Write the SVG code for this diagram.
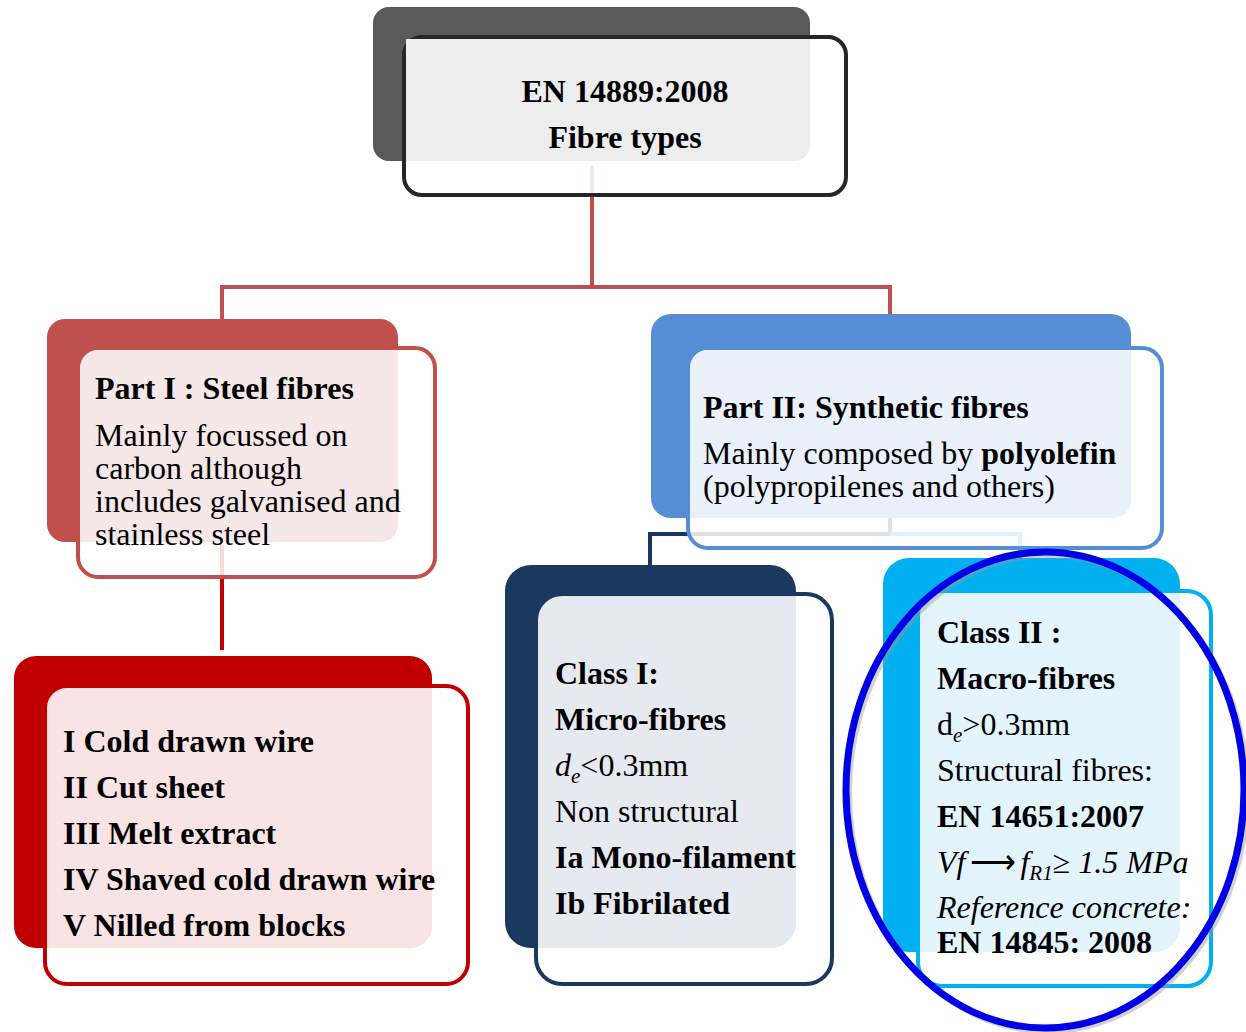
<svg xmlns="http://www.w3.org/2000/svg" width="1246" height="1032" viewBox="0 0 1246 1032">
  <style>
    text { font-family: "Liberation Serif", "Times New Roman", serif; font-size: 32px; fill: #000; }
    .b { font-weight: bold; }
    .i { font-style: italic; }
    .sub { font-size: 21px; font-style: italic; }
    .conn { fill: none; stroke-width: 4; stroke-linejoin: miter; }
    .frame { fill: #ffffff; fill-opacity: 0.86; stroke-width: 4; }
  </style>

  <rect width="1246" height="1032" fill="#ffffff"/>

  <!-- connectors (drawn beneath the boxes) -->
  <g id="connectors">
    <path class="conn" stroke="#c0504d" d="M592,165 V287 M222,287 H890 M222,285 V322 M890,285 V316"/>
    <path class="conn" stroke="#c00000" d="M222,545 V650"/>
    <path class="conn" stroke="#17375e" d="M890,518 V534 H650 V567"/>
    <path class="conn" stroke="#00b0f0" d="M890,534 H1020 V560"/>
  </g>

  <!-- root -->
  <g id="root">
    <rect x="373" y="7" width="437" height="154" rx="16" fill="#595959"/>
    <rect class="frame" x="404" y="37" width="442" height="158" rx="18" stroke="#262626"/>
    <path d="M406,39 H810 V145 A16,16 0 0 1 794,161 H406 Z" fill="#ededed"/>
    <text class="b" x="625" y="102" text-anchor="middle">EN 14889:2008</text>
    <text class="b" x="625" y="148" text-anchor="middle">Fibre types</text>
  </g>

  <!-- part I -->
  <g id="part1">
    <rect x="47" y="319" width="351" height="223" rx="18" fill="#c0504d"/>
    <rect class="frame" x="78" y="348" width="357" height="229" rx="20" stroke="#c0504d"/>
    <path d="M98,350 H398 V524 A18,18 0 0 1 380,542 H80 V370 A20,20 0 0 1 98,350 Z" fill="#f6e8e8"/>
    <text class="b" x="95" y="399">Part I : Steel fibres</text>
    <text x="95" y="446">Mainly focussed on</text>
    <text x="95" y="479">carbon although</text>
    <text x="95" y="512">includes galvanised and</text>
    <text x="95" y="545">stainless steel</text>
  </g>

  <!-- part II -->
  <g id="part2">
    <rect x="651" y="314" width="480" height="204" rx="20" fill="#558ed5"/>
    <rect class="frame" x="688" y="348" width="474" height="200" rx="20" stroke="#558ed5"/>
    <path d="M708,350 H1131 V500 A18,18 0 0 1 1113,518 H708 A18,18 0 0 1 690,500 V368 A18,18 0 0 1 708,350 Z" fill="#eaf1fa"/>
    <text class="b" x="703" y="418">Part II: Synthetic fibres</text>
    <text x="703" y="464">Mainly composed by <tspan class="b">polyolefin</tspan></text>
    <text x="703" y="497">(polypropilenes and others)</text>
  </g>

  <!-- steel fibre groups -->
  <g id="steel-groups">
    <rect x="14" y="656" width="418" height="292" rx="22" fill="#c00000"/>
    <rect class="frame" x="45" y="686" width="423" height="298" rx="22" stroke="#c00000"/>
    <path d="M68,689 H432 V926 A22,22 0 0 1 410,948 H48 V709 A20,20 0 0 1 68,689 Z" fill="#f8e4e4"/>
    <text class="b" x="63" y="752">I Cold drawn wire</text>
    <text class="b" x="63" y="798">II Cut sheet</text>
    <text class="b" x="63" y="844">III Melt extract</text>
    <text class="b" x="63" y="890">IV Shaved cold drawn wire</text>
    <text class="b" x="63" y="936">V Nilled from blocks</text>
  </g>

  <!-- class I -->
  <g id="class1">
    <rect x="505" y="565" width="291" height="383" rx="26" fill="#1a3860"/>
    <rect class="frame" x="536" y="594" width="296" height="390" rx="26" stroke="#1a3860"/>
    <path d="M562,597 H796 V922 A26,26 0 0 1 770,948 H539 V620 A23,23 0 0 1 562,597 Z" fill="#e6e9ef"/>
    <text class="b" x="555" y="684">Class I:</text>
    <text class="b" x="555" y="730">Micro-fibres</text>
    <text x="555" y="776"><tspan class="i">d</tspan><tspan class="sub" dy="7">e</tspan><tspan dy="-7">&lt;0.3mm</tspan></text>
    <text x="555" y="822">Non structural</text>
    <text class="b" x="555" y="868">Ia Mono-filament</text>
    <text class="b" x="555" y="914">Ib Fibrilated</text>
  </g>

  <!-- class II -->
  <g id="class2">
    <rect x="883" y="558" width="297" height="394" rx="26" fill="#00b0f0"/>
    <rect class="frame" x="918" y="591" width="293" height="395" rx="24" stroke="#00b0f0" stroke-width="3"/>
    <path d="M944,594 H1180 V926 A26,26 0 0 1 1154,952 H921 V617 A23,23 0 0 1 944,594 Z" fill="#e3f4fc"/>
    <text class="b" x="937" y="643">Class II :</text>
    <text class="b" x="937" y="689">Macro-fibres</text>
    <text x="937" y="735">d<tspan class="sub" dy="7">e</tspan><tspan dy="-7">&gt;0.3mm</tspan></text>
    <text x="937" y="781">Structural fibres:</text>
    <text class="b" x="937" y="827">EN 14651:2007</text>
    <text x="937" y="873"><tspan class="i">Vf</tspan><tspan dx="5">⟶</tspan><tspan class="i" dx="4">f</tspan><tspan class="sub" dy="7">R1</tspan><tspan dy="-7">≥ </tspan><tspan class="i">1.5 MPa</tspan></text>
    <text class="i" x="937" y="918">Reference concrete:</text>
    <text class="b" x="937" y="953">EN 14845: 2008</text>
  </g>

  <!-- highlight ring -->
  <g id="highlight">
    <ellipse cx="1048" cy="793" rx="199" ry="238" fill="none" stroke="#9a9a9a" stroke-opacity="0.45" stroke-width="6"/>
    <ellipse cx="1045" cy="790" rx="199" ry="238" fill="none" stroke="#0000e6" stroke-width="7"/>
  </g>
</svg>
